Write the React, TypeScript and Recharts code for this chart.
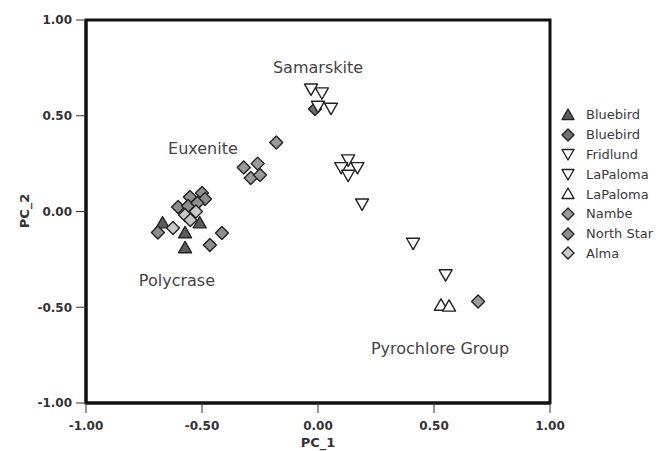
import React from "react"
import {
  ScatterChart,
  Scatter,
  XAxis,
  YAxis,
  Legend,
  ReferenceArea,
  ReferenceDot,
} from "recharts"

// PC scores, [PC_1, PC_2]
const bluebirdTri = [[-0.67, -0.06], [-0.51, -0.06], [-0.573, -0.112], [-0.573, -0.19]]
const bluebirdDia = [[-0.013, 0.535]]
const fridlund = [[-0.03, 0.64], [0.017, 0.62], [0.0, 0.55], [0.056, 0.54]]
const laPalomaDown = [[0.13, 0.27], [0.1, 0.23], [0.17, 0.23], [0.13, 0.19], [0.19, 0.04], [0.41, -0.165], [0.55, -0.33]]
const laPalomaUp = [[0.53, -0.49], [0.565, -0.495]]
const nambe = [[-0.18, 0.36], [-0.32, 0.23], [-0.29, 0.175], [-0.26, 0.25], [-0.25, 0.19], [0.69, -0.47]]
const northStar = [[-0.69, -0.11], [-0.414, -0.112], [-0.466, -0.175], [-0.552, 0.076], [-0.5, 0.097], [-0.487, 0.065], [-0.603, 0.023], [-0.56, 0.029], [-0.52, 0.044]]
const alma = [[-0.625, -0.086], [-0.573, -0.018], [-0.526, 0.0], [-0.55, -0.044]]

const ticks = [-1, -0.5, 0, 0.5, 1]

const labels = [
  { text: "Samarskite", x: 0, y: 0.755 },
  { text: "Euxenite", x: -0.496, y: 0.33 },
  { text: "Polycrase", x: -0.608, y: -0.358 },
  { text: "Pyrochlore Group", x: 0.526, y: -0.713 },
]

const series = [
  { name: "Bluebird", data: bluebirdTri, kind: "up", fill: "#5c5c5c" },
  { name: "Bluebird", data: bluebirdDia, kind: "dia", fill: "#707070" },
  { name: "Fridlund", data: fridlund, kind: "down", fill: "#ffffff" },
  { name: "LaPaloma", data: laPalomaDown, kind: "down", fill: "#ffffff" },
  { name: "LaPaloma", data: laPalomaUp, kind: "up", fill: "#ffffff" },
  { name: "Nambe", data: nambe, kind: "dia", fill: "#9a9a9a" },
  { name: "North Star", data: northStar, kind: "dia", fill: "#8e8e8e" },
  { name: "Alma", data: alma, kind: "dia", fill: "#c9c9c9" },
]

const toPoints = (arr: number[][]) => arr.map(([x, y]) => ({ x, y }))

function Marker({ cx, cy, kind, fill, s = 6.5 }: any) {
  if (cx == null || cy == null) return null
  let pts = ""
  if (kind === "dia") {
    pts = `${cx},${cy - s} ${cx + s},${cy} ${cx},${cy + s} ${cx - s},${cy}`
  } else if (kind === "up") {
    pts = `${cx},${cy - s} ${cx + s},${cy + s * 0.75} ${cx - s},${cy + s * 0.75}`
  } else {
    pts = `${cx - s},${cy - s * 0.75} ${cx + s},${cy - s * 0.75} ${cx},${cy + s}`
  }
  return <polygon points={pts} fill={fill} stroke="#222" strokeWidth={1.4} strokeLinejoin="round" />
}

function LegendBox() {
  return (
    <div style={{ fontSize: 13, color: "#3a3a3a" }}>
      {series.map((s, i) => (
        <div key={i} style={{ height: 19.8, display: "flex", alignItems: "center" }}>
          <svg width={24} height={16}>
            <Marker cx={12} cy={8} kind={s.kind} fill={s.fill} s={6} />
          </svg>
          <span style={{ marginLeft: 6 }}>{s.name}</span>
        </div>
      ))}
    </div>
  )
}

const fmt = (v: number) => v.toFixed(2)

export default function App() {
  return (
    <div style={{ position: "absolute", left: 0, top: 0, width: 665, height: 451, background: "#fff", fontFamily: "DejaVu Sans" }}>
      <ScatterChart width={665} height={451} margin={{ top: 20, right: 115, bottom: 8, left: 16 }}>
        <XAxis
          type="number"
          dataKey="x"
          domain={[-1, 1]}
          ticks={ticks}
          tickFormatter={fmt}
          height={40}
          tickSize={10}
          tickMargin={8}
          axisLine={{ stroke: "#111", strokeWidth: 3 }}
          tickLine={{ stroke: "#333" }}
          tick={{ fill: "#333", fontSize: 12, fontWeight: "bold" }}
          label={{
            content: () => (
              <text x={318} y={447} textAnchor="middle" fontSize={13} fontWeight="bold" fill="#333">PC_1</text>
            ),
          }}
        />
        <YAxis
          type="number"
          dataKey="y"
          domain={[-1, 1]}
          ticks={ticks}
          tickFormatter={fmt}
          width={70}
          tickSize={10}
          tickMargin={4}
          axisLine={{ stroke: "#111", strokeWidth: 3 }}
          tickLine={{ stroke: "#333" }}
          tick={{ fill: "#333", fontSize: 12, fontWeight: "bold" }}
          label={{
            content: () => (
              <text x={29} y={211} transform="rotate(-90 29 211)" textAnchor="middle" fontSize={13} fontWeight="bold" fill="#333">PC_2</text>
            ),
          }}
        />
        <ReferenceArea x1={-1} x2={1} y1={-1} y2={1} fill="none" stroke="#111" strokeWidth={3} ifOverflow="visible" />
        {labels.map((l) => (
          <ReferenceDot
            key={l.text}
            x={l.x}
            y={l.y}
            r={0}
            fill="none"
            stroke="none"
            label={{ value: l.text, position: "center", fill: "#444", fontSize: 16 }}
          />
        ))}
        {series.map((s, i) => (
          <Scatter
            key={i}
            name={s.name}
            data={toPoints(s.data)}
            fill={s.fill}
            isAnimationActive={false}
            shape={(p: any) => <Marker cx={p.cx} cy={p.cy} kind={s.kind} fill={s.fill} />}
          />
        ))}
        <Legend
          layout="vertical"
          align="center"
          verticalAlign="middle"
          content={() => <LegendBox />}
          wrapperStyle={{ left: 556, top: 105, width: 100 }}
        />
      </ScatterChart>
    </div>
  )
}
